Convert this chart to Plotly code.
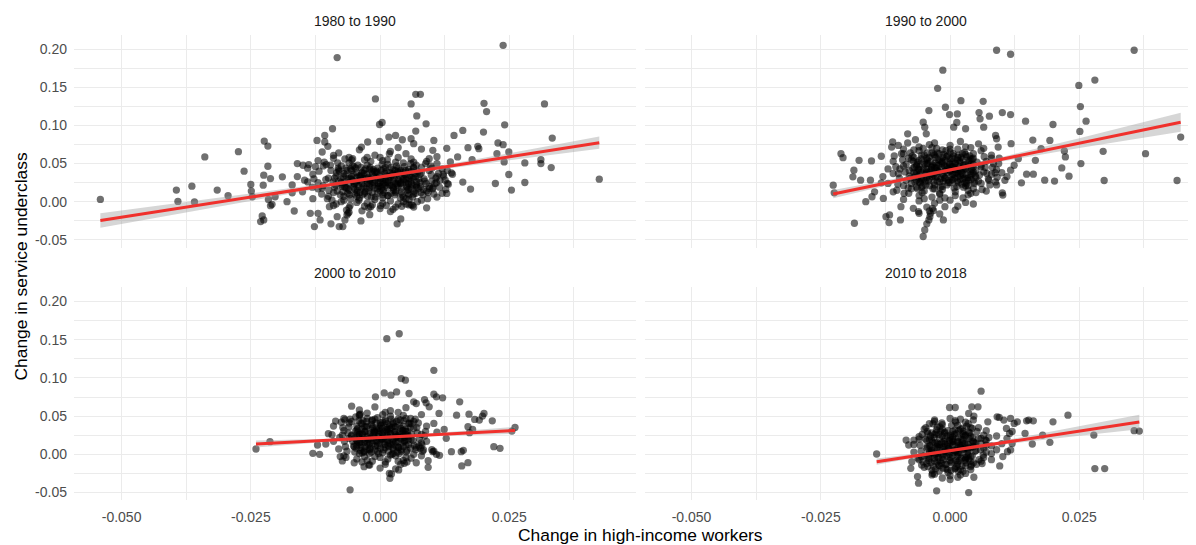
import plotly.graph_objects as go

# ---------------- data ----------------
panel_titles = ["1980 to 1990", "1990 to 2000", "2000 to 2010", "2010 to 2018"]

x_ticks = [-0.05, -0.025, 0.0, 0.025]
x_tick_labels = ["-0.050", "-0.025", "0.000", "0.025"]
x_minor = [-0.0375, -0.0125, 0.0125, 0.0375]
y_ticks = [-0.05, 0.0, 0.05, 0.10, 0.15, 0.20]
y_tick_labels = ["-0.05", "0.00", "0.05", "0.10", "0.15", "0.20"]
y_minor = [-0.025, 0.025, 0.075, 0.125, 0.175]

x_title = "Change in high-income workers"
y_title = "Change in service underclass"

# 1980 to 1990 -------------------------------------------------------------
pts_1980_spread = [
    (-0.0541, 0.0030), (-0.0394, 0.0152), (-0.0391, 0.0004), (-0.0364, 0.0204), (-0.0359, -0.0004),
    (-0.0339, 0.0587), (-0.0315, 0.0152), (-0.0294, 0.0078), (-0.0274, 0.0657), (-0.0263, 0.0400),
    (-0.0250, 0.0226), (-0.0249, 0.0139), (-0.0247, 0.0065), (-0.0231, -0.0261), (-0.0228, -0.0187),
    (-0.0225, -0.0239), (-0.0224, 0.0796), (-0.0217, 0.0730), (-0.0217, 0.0465), (-0.0225, 0.0348),
    (-0.0226, 0.0217), (-0.0212, 0.0304), (-0.0212, -0.0052), (-0.0209, -0.0035), (-0.0216, 0.0030),
    (-0.0203, 0.0065), (-0.0189, 0.0326), (-0.0180, 0.0000), (-0.0166, -0.0122), (-0.0170, 0.0117),
    (-0.0160, 0.0500), (-0.0149, 0.0478), (-0.0146, 0.0283), (-0.0138, 0.0487), (-0.0135, -0.0152),
    (-0.0127, -0.0326), (-0.0122, 0.0804), (-0.0120, -0.0152), (-0.0116, -0.0239), (-0.0112, 0.0652),
    (-0.0107, 0.0870), (-0.0107, 0.0783), (-0.0104, 0.0487), (-0.0101, 0.0726), (-0.0098, -0.0065),
    (-0.0095, -0.0291), (-0.0092, 0.0957), (-0.0090, 0.0609), (-0.0083, 0.1891), (-0.0083, -0.0196),
    (-0.0079, -0.0326), (-0.0072, -0.0326), (-0.0068, -0.0239), (-0.0064, -0.0174), (-0.0062, -0.0152),
    (-0.0053, 0.0565), (-0.0037, -0.0252), (-0.0036, 0.0717), (-0.0024, 0.0783), (-0.0018, -0.0065),
    (-0.0009, 0.1348), (-0.0001, 0.1013), (0.0004, 0.1039), (-0.0001, 0.0791), (0.0001, -0.0052),
    (0.0017, 0.0848), (0.0018, 0.0630), (0.0030, 0.0870), (0.0033, -0.0291), (0.0040, -0.0226),
    (0.0043, 0.0813), (0.0050, -0.0030), (0.0056, -0.0043), (0.0060, 0.1283), (0.0069, 0.1409),
    (0.0078, 0.1409), (0.0071, 0.1126), (0.0069, 0.0926), (0.0060, 0.0826), (0.0065, 0.0761),
    (0.0063, -0.0048), (0.0056, 0.0030), (0.0089, 0.1022), (0.0078, 0.0196), (0.0084, 0.0161),
    (0.0096, 0.0174), (0.0102, 0.0183), (0.0104, 0.0804), (0.0102, 0.0674), (0.0095, 0.0565),
    (0.0109, 0.0248), (0.0113, 0.0370), (0.0123, 0.0335), (0.0126, 0.0283), (0.0129, 0.0700),
    (0.0129, 0.0109), (0.0132, 0.0230), (0.0138, 0.0378), (0.0136, 0.0522), (0.0143, 0.0870),
    (0.0150, 0.0587), (0.0160, 0.0935), (0.0160, 0.0257), (0.0170, 0.0709), (0.0175, 0.0165),
    (0.0178, 0.0552), (0.0189, 0.0726), (0.0191, 0.0696), (0.0200, 0.0913), (0.0201, 0.1291),
    (0.0206, 0.1183), (0.0223, 0.0239), (0.0226, 0.0630), (0.0228, 0.0770), (0.0238, 0.0748),
    (0.0238, 0.2052), (0.0241, 0.1009), (0.0240, 0.0522), (0.0249, 0.0652), (0.0249, 0.0357),
    (0.0254, 0.0152), (0.0280, 0.0509), (0.0280, 0.0252), (0.0311, 0.0552), (0.0311, 0.0500),
    (0.0318, 0.1283), (0.0331, 0.0448), (0.0333, 0.0835), (0.0424, 0.0296),
]
pts_1980_core = [
    (-0.008, 0.064), (-0.004, 0.068), (-0.001, 0.061), (0.002, 0.066), (0.005, 0.063), (0.008, 0.069),
    (-0.006, 0.058), (0.0035, 0.071), (-0.012, 0.054), (-0.009, 0.057), (-0.006, 0.051), (-0.003, 0.055),
    (0.000, 0.058), (0.003, 0.052), (0.006, 0.056), (0.009, 0.053), (0.011, 0.059), (-0.0075, 0.047),
    (0.0015, 0.049), (-0.014, 0.044), (-0.011, 0.047), (-0.008, 0.042), (-0.005, 0.046), (-0.002, 0.043),
    (0.001, 0.045), (0.004, 0.041), (0.007, 0.048), (0.010, 0.044), (0.013, 0.041), (-0.0035, 0.038),
    (0.0055, 0.039), (-0.016, 0.033), (-0.013, 0.036), (-0.010, 0.031), (-0.007, 0.037), (-0.004, 0.034),
    (-0.001, 0.039), (0.002, 0.032), (0.005, 0.035), (0.008, 0.038), (0.011, 0.033), (0.014, 0.036),
    (-0.0055, 0.029), (0.0035, 0.029), (0.0005, 0.027), (-0.017, 0.022), (-0.014, 0.026), (-0.011, 0.021),
    (-0.008, 0.027), (-0.005, 0.023), (-0.002, 0.028), (0.001, 0.021), (0.004, 0.025), (0.007, 0.022),
    (0.010, 0.027), (0.013, 0.024), (-0.0065, 0.018), (-0.0005, 0.017), (0.0025, 0.019), (0.0055, 0.016),
    (-0.015, 0.013), (-0.012, 0.017), (-0.009, 0.012), (-0.006, 0.015), (-0.003, 0.011), (0.000, 0.014),
    (0.003, 0.012), (0.006, 0.018), (0.009, 0.014), (0.012, 0.011), (-0.0045, 0.007), (0.0015, 0.008),
    (0.0045, 0.006), (-0.013, 0.004), (-0.010, 0.007), (-0.007, 0.002), (-0.004, 0.005), (-0.001, 0.003),
    (0.002, 0.001), (0.005, 0.004), (0.008, 0.002), (0.011, 0.006), (-0.0025, -0.002), (0.0035, -0.003),
    (-0.009, -0.005), (-0.006, -0.008), (-0.003, -0.006), (0.000, -0.009), (0.003, -0.007), (0.006, -0.004),
    (0.009, -0.008), (-0.006, -0.014), (-0.002, -0.017), (0.002, -0.013), (-0.0045, 0.032), (-0.0025, 0.024),
    (-0.0015, 0.036), (0.0005, 0.031), (0.0025, 0.037), (0.0045, 0.027), (0.0065, 0.031), (-0.0035, 0.018),
    (-0.0015, 0.021), (0.0015, 0.025), (0.0035, 0.021), (0.0055, 0.024), (-0.0055, 0.041), (-0.0005, 0.044),
    (0.0025, 0.042), (0.0065, 0.044), (-0.0025, 0.048), (0.0045, 0.051), (-0.0045, 0.012), (0.0005, 0.009),
    (0.0065, 0.010), (-0.0075, 0.025), (0.0085, 0.030), (-0.0085, 0.034), (0.0095, 0.020),
    (-0.0105, 0.029), (-0.0095, 0.041), (-0.0088, 0.019), (-0.0082, 0.051), (-0.0077, 0.009), (-0.0071, 0.033),
    (-0.0066, 0.044), (-0.0061, 0.024), (-0.0057, 0.004), (-0.0052, 0.036), (-0.0048, 0.016), (-0.0043, 0.048),
    (-0.0039, 0.027), (-0.0034, 0.009), (-0.0031, 0.041), (-0.0027, 0.031), (-0.0022, 0.014), (-0.0018, 0.053),
    (-0.0014, 0.026), (-0.0009, 0.006), (-0.0005, 0.038), (0.0000, 0.020), (0.0004, 0.049), (0.0008, 0.012),
    (0.0012, 0.034), (0.0017, 0.028), (0.0021, 0.045), (0.0026, 0.015), (0.0030, 0.024), (0.0034, 0.039),
    (0.0039, 0.005), (0.0043, 0.033), (0.0047, 0.046), (0.0052, 0.019), (0.0056, 0.030), (0.0061, 0.040),
    (0.0066, 0.014), (0.0071, 0.026), (0.0077, 0.036), (0.0083, 0.009), (0.0089, 0.024), (0.0095, 0.041),
    (0.0102, 0.017), (0.0108, 0.031), (-0.0099, 0.015), (-0.0091, 0.026), (-0.0084, 0.038), (-0.0073, 0.020),
    (-0.0068, 0.056), (-0.0063, 0.011), (-0.0058, 0.031), (-0.0053, 0.047), (-0.0046, 0.025), (-0.0041, 0.002),
    (-0.0037, 0.035), (-0.0032, 0.020), (-0.0028, 0.043), (-0.0024, 0.007), (-0.0019, 0.030), (-0.0016, 0.040),
    (-0.0011, 0.018), (-0.0007, 0.032), (-0.0003, 0.024), (0.0002, 0.041), (0.0006, 0.015), (0.0010, 0.029),
    (0.0014, 0.055), (0.0019, 0.022), (0.0023, 0.035), (0.0028, 0.009), (0.0032, 0.047), (0.0036, 0.026),
    (0.0041, 0.018), (0.0045, 0.038), (0.0050, 0.029), (0.0054, 0.011), (0.0059, 0.050), (0.0064, 0.022),
    (0.0069, 0.033), (0.0074, 0.017), (0.0080, 0.045), (0.0086, 0.027), (0.0093, 0.012), (0.0099, 0.035),
    (0.0106, 0.024), (0.0115, 0.019), (-0.0120, 0.025), (-0.0128, 0.030), (-0.0113, 0.010), (0.0120, 0.043),
    (-0.0085, -0.003), (-0.0065, -0.011), (-0.0045, -0.001), (-0.0035, -0.012), (-0.0015, -0.004),
    (0.0005, -0.002), (0.0025, -0.010), (0.0045, 0.000), (0.0065, -0.007), (-0.0075, 0.000),
    (-0.0088, 0.031), (-0.0083, 0.014), (-0.0079, 0.040), (-0.0074, 0.022), (-0.0070, 0.007), (-0.0066, 0.035),
    (-0.0061, 0.017), (-0.0057, 0.043), (-0.0053, 0.027), (-0.0049, 0.010), (-0.0045, 0.038), (-0.0041, 0.020),
    (-0.0037, 0.045), (-0.0033, 0.030), (-0.0029, 0.013), (-0.0025, 0.036), (-0.0021, 0.023), (-0.0017, 0.006),
    (-0.0013, 0.042), (-0.0009, 0.028), (-0.0005, 0.011), (-0.0001, 0.035), (0.0003, 0.018), (0.0007, 0.043),
    (0.0011, 0.025), (0.0015, 0.008), (0.0019, 0.038), (0.0023, 0.021), (0.0027, 0.030), (0.0031, 0.014),
    (0.0035, 0.044), (0.0039, 0.024), (0.0043, 0.009), (0.0047, 0.036), (0.0051, 0.020), (0.0055, 0.042),
    (0.0059, 0.027), (0.0063, 0.006), (0.0067, 0.037), (0.0071, 0.019), (0.0075, 0.030), (0.0079, 0.012),
    (-0.0086, 0.022), (-0.0081, 0.044), (-0.0076, 0.030), (-0.0072, 0.013), (-0.0068, 0.026), (-0.0064, 0.041),
    (-0.0059, 0.009), (-0.0055, 0.033), (-0.0051, 0.019), (-0.0047, 0.044), (-0.0043, 0.028), (-0.0039, 0.012),
    (-0.0035, 0.024), (-0.0031, 0.037), (-0.0027, 0.017), (-0.0023, 0.032), (-0.0019, 0.045), (-0.0015, 0.012),
    (-0.0011, 0.025), (-0.0007, 0.040), (-0.0003, 0.020), (0.0001, 0.030), (0.0005, 0.005), (0.0009, 0.037),
    (0.0013, 0.019), (0.0017, 0.033), (0.0021, 0.011), (0.0025, 0.027), (0.0029, 0.041), (0.0033, 0.023),
    (0.0037, 0.034), (0.0041, 0.013), (0.0045, 0.029), (0.0049, 0.041), (0.0053, 0.015), (0.0057, 0.034),
    (0.0061, 0.023), (0.0065, 0.045), (0.0069, 0.011), (0.0073, 0.039), (0.0077, 0.025), (-0.0062, 0.030),
    (-0.0038, 0.033), (-0.0012, 0.033), (0.0012, 0.040), (0.0038, 0.039), (0.0062, 0.032), (-0.0050, 0.024),
    (-0.0026, 0.027), (0.0000, 0.025), (0.0026, 0.018), (0.0050, 0.025), (-0.0044, 0.015), (-0.0020, 0.019),
    (0.0006, 0.023), (0.0030, 0.035), (0.0056, 0.009), (-0.0068, 0.019),
    (-0.0118, 0.040), (-0.0112, 0.018), (-0.0108, 0.052), (-0.0102, 0.004), (-0.0096, 0.048), (-0.0093, 0.002),
    (0.0088, 0.050), (0.0092, 0.004), (0.0098, 0.047), (0.0104, 0.010), (0.0110, 0.050), (0.0116, 0.028),
    (0.0122, 0.036), (0.0127, 0.016), (-0.0125, 0.046), (-0.0131, 0.019), (-0.0055, 0.055), (-0.0025, 0.058),
    (0.0005, 0.054), (0.0035, 0.058), (0.0065, 0.052), (-0.0058, -0.005), (-0.0022, -0.008), (0.0012, -0.005),
    (0.0042, -0.006), (0.0072, 0.000),
]
fit_1980_x = [-0.0541, -0.03, -0.01, 0.0, 0.01, 0.025, 0.0424]
fit_1980_y = [-0.0248, 0.0007, 0.0219, 0.0325, 0.0431, 0.0590, 0.0774]
fit_1980_lo = [-0.0343, -0.0048, 0.0194, 0.0305, 0.0406, 0.0545, 0.0694]
fit_1980_hi = [-0.0153, 0.0062, 0.0244, 0.0345, 0.0456, 0.0635, 0.0854]

# 1990 to 2000 -------------------------------------------------------------
pts_1990_spread = [
    (-0.0226, 0.0217), (-0.0224, 0.0117), (-0.0211, 0.0630), (-0.0207, 0.0578), (-0.0185, -0.0283),
    (-0.0186, 0.0413), (-0.0188, 0.0326), (-0.0176, 0.0543), (-0.0173, 0.0283), (-0.0163, 0.0000),
    (-0.0154, 0.0283), (-0.0152, 0.0535), (-0.0151, 0.0065), (-0.0146, 0.0130), (-0.0133, 0.0596),
    (-0.0133, 0.0248), (-0.0129, 0.0043), (-0.0124, -0.0196), (-0.0118, -0.0274), (-0.0117, -0.0174),
    (-0.0111, 0.0783), (-0.0113, 0.0717), (-0.0100, 0.0739), (-0.0096, -0.0239), (-0.0095, -0.0065),
    (-0.0082, 0.0891), (-0.0082, 0.0770), (-0.0067, 0.0813), (-0.0071, -0.0087), (-0.0061, -0.0130),
    (-0.0060, -0.0152), (-0.0052, 0.1043), (-0.0049, 0.0978), (-0.0046, 0.0891), (-0.0052, -0.0457),
    (-0.0049, -0.0370), (-0.0045, -0.0291), (-0.0041, -0.0239), (-0.0038, -0.0152), (-0.0034, -0.0087),
    (-0.0039, -0.0196), (-0.0032, -0.0117), (-0.0041, 0.1196), (-0.0024, 0.1487), (-0.0014, 0.1726),
    (-0.0013, -0.0239), (-0.0009, 0.1239), (-0.0010, -0.0065), (-0.0001, 0.1143), (0.0014, 0.1152),
    (0.0007, 0.0978), (0.0013, 0.1039), (0.0021, 0.1326), (0.0030, 0.0957), (0.0045, -0.0030),
    (0.0056, 0.1170), (0.0058, 0.1087), (0.0064, 0.1317), (0.0065, 0.0978), (0.0076, 0.1122),
    (0.0090, 0.1987), (0.0117, 0.1935), (0.0101, 0.1170), (0.0117, 0.1143), (0.0088, 0.0870),
    (0.0090, 0.0826), (0.0093, 0.0717), (0.0102, 0.0087), (0.0101, 0.0117), (0.0118, 0.0761),
    (0.0117, 0.0413), (0.0124, 0.0478), (0.0132, 0.0565), (0.0138, 0.0248), (0.0146, 0.1057),
    (0.0148, 0.0361), (0.0160, 0.0809), (0.0161, 0.0361), (0.0165, 0.0543), (0.0176, 0.0696),
    (0.0183, 0.0283), (0.0193, 0.0804), (0.0199, 0.1013), (0.0202, 0.0270), (0.0216, 0.0443),
    (0.0221, 0.0665), (0.0223, 0.0587), (0.0230, 0.0335), (0.0249, 0.1526), (0.0252, 0.1248),
    (0.0251, 0.0922), (0.0253, 0.0500), (0.0263, 0.1057), (0.0280, 0.1596), (0.0296, 0.0661),
    (0.0298, 0.0278), (0.0356, 0.1987), (0.0378, 0.0630), (0.0439, 0.0278), (0.0446, 0.0848),
]
pts_1990_core = [
    (-0.006, 0.072), (-0.003, 0.077), (0.000, 0.074), (0.002, 0.079), (0.004, 0.071), (-0.0015, 0.068),
    (0.0055, 0.076), (-0.009, 0.063), (-0.006, 0.067), (-0.003, 0.061), (0.000, 0.065), (0.003, 0.062),
    (0.006, 0.067), (0.008, 0.061), (-0.0045, 0.057), (0.0015, 0.058), (-0.011, 0.053), (-0.008, 0.057),
    (-0.005, 0.052), (-0.002, 0.055), (0.001, 0.051), (0.004, 0.056), (0.007, 0.053), (0.0095, 0.057),
    (-0.0065, 0.047), (0.0025, 0.048), (-0.0005, 0.046), (-0.012, 0.043), (-0.009, 0.047), (-0.006, 0.042),
    (-0.003, 0.045), (0.000, 0.041), (0.003, 0.044), (0.006, 0.046), (0.009, 0.042), (-0.0045, 0.038),
    (0.0015, 0.037), (0.0045, 0.039), (-0.013, 0.033), (-0.010, 0.037), (-0.007, 0.032), (-0.004, 0.035),
    (-0.001, 0.031), (0.002, 0.034), (0.005, 0.032), (0.008, 0.036), (0.011, 0.033), (-0.0025, 0.027),
    (0.0035, 0.028), (-0.012, 0.024), (-0.009, 0.021), (-0.006, 0.026), (-0.003, 0.022), (0.000, 0.025),
    (0.003, 0.021), (0.006, 0.024), (0.009, 0.022), (-0.0075, 0.017), (-0.0015, 0.016), (0.0045, 0.017),
    (-0.011, 0.013), (-0.008, 0.011), (-0.005, 0.014), (-0.002, 0.010), (0.001, 0.013), (0.004, 0.011),
    (0.007, 0.014), (-0.0035, 0.006), (0.0025, 0.005), (-0.009, 0.003), (-0.006, 0.001), (-0.003, -0.002),
    (0.000, 0.002), (0.003, -0.001), (-0.0045, -0.007), (0.0015, -0.006), (-0.004, -0.012), (-0.002, -0.016),
    (0.001, -0.011), (-0.0045, 0.050), (-0.0025, 0.040), (-0.0015, 0.052), (0.0005, 0.036), (0.0025, 0.056),
    (0.0045, 0.049), (-0.0055, 0.030), (-0.0035, 0.045), (0.0005, 0.028), (0.0025, 0.030), (-0.0005, 0.060),
    (-0.0025, 0.064), (0.0015, 0.069), (-0.0065, 0.038), (0.0065, 0.039), (-0.0085, 0.028), (0.0075, 0.028),
    (-0.0015, 0.020), (0.0035, 0.015), (-0.0055, 0.019), (0.0045, 0.063), (-0.0075, 0.055), (0.0005, 0.046),
    (-0.0035, 0.033), (0.0015, 0.042),
    (-0.0105, 0.046), (-0.0098, 0.031), (-0.0092, 0.055), (-0.0087, 0.039), (-0.0081, 0.018), (-0.0077, 0.064),
    (-0.0072, 0.044), (-0.0068, 0.026), (-0.0063, 0.052), (-0.0059, 0.035), (-0.0054, 0.012), (-0.0050, 0.061),
    (-0.0046, 0.043), (-0.0042, 0.027), (-0.0038, 0.053), (-0.0034, 0.037), (-0.0030, 0.017), (-0.0026, 0.070),
    (-0.0022, 0.048), (-0.0018, 0.030), (-0.0014, 0.058), (-0.0010, 0.040), (-0.0006, 0.022), (-0.0002, 0.051),
    (0.0002, 0.033), (0.0006, 0.063), (0.0010, 0.045), (0.0014, 0.027), (0.0018, 0.054), (0.0022, 0.038),
    (0.0026, 0.019), (0.0030, 0.049), (0.0034, 0.031), (0.0038, 0.060), (0.0042, 0.042), (0.0047, 0.024),
    (0.0052, 0.052), (0.0057, 0.035), (0.0062, 0.016), (0.0068, 0.045), (0.0074, 0.030), (0.0080, 0.057),
    (0.0087, 0.038), (-0.0101, 0.023), (-0.0094, 0.063), (-0.0085, 0.049), (-0.0079, 0.034), (-0.0070, 0.058),
    (-0.0065, 0.019), (-0.0061, 0.043), (-0.0056, 0.028), (-0.0052, 0.070), (-0.0048, 0.036), (-0.0044, 0.055),
    (-0.0040, 0.021), (-0.0036, 0.046), (-0.0032, 0.062), (-0.0028, 0.032), (-0.0024, 0.041), (-0.0020, 0.011),
    (-0.0016, 0.050), (-0.0012, 0.035), (-0.0008, 0.067), (-0.0004, 0.028), (0.0000, 0.056), (0.0004, 0.043),
    (0.0008, 0.018), (0.0012, 0.038), (0.0016, 0.061), (0.0020, 0.029), (0.0024, 0.044), (0.0028, 0.065),
    (0.0032, 0.024), (0.0036, 0.051), (0.0040, 0.035), (0.0045, 0.057), (0.0050, 0.041), (0.0055, 0.027),
    (0.0060, 0.048), (0.0066, 0.059), (0.0071, 0.037), (0.0077, 0.022), (0.0084, 0.050), (0.0091, 0.032),
    (-0.0110, 0.037), (-0.0060, 0.008), (-0.0010, 0.005), (0.0035, 0.009), (0.0065, 0.070), (-0.0040, 0.075),
    (-0.0079, 0.041), (-0.0075, 0.024), (-0.0071, 0.053), (-0.0067, 0.035), (-0.0063, 0.017), (-0.0059, 0.046),
    (-0.0055, 0.061), (-0.0051, 0.030), (-0.0047, 0.022), (-0.0043, 0.050), (-0.0039, 0.039), (-0.0035, 0.064),
    (-0.0031, 0.026), (-0.0027, 0.044), (-0.0023, 0.055), (-0.0019, 0.019), (-0.0015, 0.036), (-0.0011, 0.047),
    (-0.0007, 0.059), (-0.0003, 0.025), (0.0001, 0.040), (0.0005, 0.052), (0.0009, 0.031), (0.0013, 0.020),
    (0.0017, 0.046), (0.0021, 0.058), (0.0025, 0.036), (0.0029, 0.025), (0.0033, 0.043), (0.0037, 0.054),
    (0.0041, 0.029), (0.0045, 0.046), (0.0049, 0.034), (-0.0077, 0.031), (-0.0073, 0.060), (-0.0069, 0.045),
    (-0.0065, 0.028), (-0.0061, 0.054), (-0.0057, 0.038), (-0.0053, 0.021), (-0.0049, 0.049), (-0.0045, 0.032),
    (-0.0041, 0.058), (-0.0037, 0.042), (-0.0033, 0.017), (-0.0029, 0.051), (-0.0025, 0.033), (-0.0021, 0.063),
    (-0.0017, 0.045), (-0.0013, 0.027), (-0.0009, 0.054), (-0.0005, 0.038), (-0.0001, 0.049), (0.0003, 0.029),
    (0.0007, 0.060), (0.0011, 0.042), (0.0015, 0.033), (0.0019, 0.052), (0.0023, 0.023), (0.0027, 0.048),
    (0.0031, 0.035), (0.0035, 0.021), (0.0039, 0.040), (0.0043, 0.056), (0.0047, 0.026), (-0.0070, 0.038),
    (-0.0058, 0.025), (-0.0046, 0.040), (-0.0034, 0.048), (-0.0022, 0.039), (-0.0010, 0.031), (0.0002, 0.046),
    (0.0014, 0.055), (0.0026, 0.042), (0.0038, 0.032), (-0.0064, 0.049), (-0.0052, 0.043), (-0.0040, 0.030),
    (-0.0028, 0.058), (-0.0016, 0.053), (-0.0004, 0.043), (0.0008, 0.036), (0.0020, 0.040), (0.0032, 0.059),
    (0.0044, 0.037), (-0.0056, 0.056), (-0.0044, 0.064), (-0.0032, 0.035), (-0.0020, 0.026), (-0.0008, 0.045),
    (0.0004, 0.057), (0.0016, 0.025), (0.0028, 0.031), (0.0040, 0.049), (-0.0062, 0.033), (-0.0026, 0.048),
    (0.0010, 0.050), (-0.0048, 0.027), (-0.0012, 0.062), (0.0024, 0.063),
    (-0.0108, 0.060), (-0.0103, 0.015), (-0.0097, 0.043), (-0.0090, 0.069), (-0.0089, 0.011), (0.0082, 0.045),
    (0.0088, 0.026), (0.0094, 0.050), (0.0100, 0.038), (0.0106, 0.028), (-0.0070, 0.068), (-0.0035, 0.071),
    (0.0000, 0.069), (0.0030, 0.072), (-0.0050, 0.004), (-0.0020, 0.002), (0.0010, 0.008), (0.0050, 0.012),
]
fit_1990_x = [-0.0226, -0.01, 0.0, 0.01, 0.025, 0.0446]
fit_1990_y = [0.0100, 0.0277, 0.0417, 0.0557, 0.0768, 0.1043]
fit_1990_lo = [0.0045, 0.0247, 0.0397, 0.0527, 0.0703, 0.0918]
fit_1990_hi = [0.0155, 0.0307, 0.0437, 0.0587, 0.0833, 0.1168]

# 2000 to 2010 -------------------------------------------------------------
pts_2000_spread = [
    (-0.0240, 0.0070), (-0.0213, 0.0165), (-0.0130, 0.0013), (-0.0117, 0.0000), (-0.0121, 0.0122),
    (-0.0105, 0.0135), (-0.0093, 0.0257), (-0.0086, 0.0435), (-0.0077, -0.0030), (-0.0073, -0.0087),
    (-0.0055, 0.0630), (-0.0058, -0.0465), (-0.0038, 0.0526), (-0.0031, -0.0161), (-0.0022, -0.0139),
    (-0.0009, 0.0752), (0.0008, 0.0804), (0.0013, 0.1513), (0.0037, 0.1578), (0.0041, 0.0991),
    (0.0049, 0.0970), (0.0032, 0.0817), (0.0021, 0.0774), (0.0018, -0.0248), (0.0019, -0.0313),
    (0.0022, -0.0257), (0.0036, -0.0204), (0.0047, -0.0117), (0.0056, 0.0796), (0.0065, 0.0687),
    (0.0070, 0.0665), (0.0086, 0.0717), (0.0089, 0.0674), (0.0095, 0.0622), (0.0104, 0.1100),
    (0.0104, 0.0787), (0.0109, 0.0752), (0.0121, 0.0739), (0.0114, 0.0535), (0.0104, 0.0404),
    (0.0093, -0.0170), (0.0093, -0.0083), (0.0081, 0.0122), (0.0084, 0.0057), (0.0102, 0.0035),
    (0.0104, 0.0043), (0.0109, 0.0000), (0.0115, -0.0013), (0.0124, 0.0326), (0.0128, 0.0209),
    (0.0138, 0.0035), (0.0148, 0.0513), (0.0154, 0.0687), (0.0157, 0.0035), (0.0161, 0.0052),
    (0.0170, -0.0109), (0.0158, -0.0152), (0.0172, 0.0526), (0.0170, 0.0361), (0.0173, 0.0283),
    (0.0179, 0.0326), (0.0183, 0.0457), (0.0192, 0.0448), (0.0201, 0.0535), (0.0198, 0.0500),
    (0.0220, 0.0100), (0.0217, 0.0439), (0.0232, 0.0078), (0.0255, 0.0304), (0.0261, 0.0352),
]
pts_2000_core = [
    (-0.004, 0.058), (-0.001, 0.062), (0.002, 0.057), (0.005, 0.061), (-0.0025, 0.054), (0.0035, 0.055),
    (-0.007, 0.047), (-0.004, 0.051), (-0.001, 0.046), (0.002, 0.050), (0.005, 0.047), (0.008, 0.052),
    (-0.0055, 0.043), (0.0005, 0.042), (0.0065, 0.043), (-0.009, 0.037), (-0.006, 0.041), (-0.003, 0.036),
    (0.000, 0.039), (0.003, 0.036), (0.006, 0.040), (0.009, 0.037), (-0.0045, 0.032), (0.0015, 0.033),
    (0.0045, 0.031), (-0.010, 0.027), (-0.007, 0.031), (-0.004, 0.026), (-0.001, 0.029), (0.002, 0.027),
    (0.005, 0.030), (0.008, 0.026), (0.011, 0.029), (-0.0025, 0.023), (0.0035, 0.022), (-0.009, 0.017),
    (-0.006, 0.021), (-0.003, 0.016), (0.000, 0.019), (0.003, 0.016), (0.006, 0.020), (0.009, 0.017),
    (-0.0045, 0.012), (0.0015, 0.012), (0.0075, 0.011), (-0.008, 0.007), (-0.005, 0.010), (-0.002, 0.006),
    (0.001, 0.009), (0.004, 0.006), (0.007, 0.009), (0.010, 0.006), (-0.0035, 0.002), (0.0025, 0.001),
    (-0.007, -0.002), (-0.004, 0.001), (-0.001, -0.003), (0.002, -0.001), (0.005, -0.004), (0.008, -0.002),
    (-0.0025, -0.008), (0.0035, -0.009), (-0.005, -0.011), (-0.002, -0.014), (0.001, -0.010), (0.004, -0.013),
    (0.007, -0.011), (0.000, -0.018), (0.003, -0.019), (-0.0015, 0.034), (0.0005, 0.025), (0.0025, 0.040),
    (-0.0035, 0.040), (0.0045, 0.024), (-0.0015, 0.014), (0.0025, 0.008), (-0.0005, 0.004), (0.0055, 0.013),
    (-0.0055, 0.025), (0.0065, 0.034), (-0.0025, 0.047), (0.0035, 0.046), (-0.0045, 0.018), (0.0005, 0.052),
    (0.0015, 0.018), (-0.0005, 0.031),
    (-0.0078, 0.022), (-0.0072, 0.035), (-0.0067, 0.010), (-0.0062, 0.028), (-0.0058, 0.046), (-0.0053, 0.017),
    (-0.0049, 0.003), (-0.0045, 0.037), (-0.0041, 0.023), (-0.0037, 0.009), (-0.0033, 0.044), (-0.0029, 0.030),
    (-0.0025, 0.015), (-0.0021, 0.001), (-0.0017, 0.039), (-0.0013, 0.025), (-0.0009, 0.011), (-0.0005, 0.048),
    (-0.0001, 0.034), (0.0003, 0.020), (0.0007, 0.006), (0.0011, 0.043), (0.0015, 0.029), (0.0019, 0.014),
    (0.0023, 0.000), (0.0027, 0.037), (0.0031, 0.023), (0.0035, 0.009), (0.0039, 0.045), (0.0043, 0.031),
    (0.0047, 0.017), (0.0051, 0.003), (0.0056, 0.040), (0.0061, 0.026), (0.0066, 0.012), (0.0071, 0.035),
    (0.0076, 0.020), (0.0082, 0.004), (0.0088, 0.030), (-0.0075, 0.042), (-0.0069, 0.017), (-0.0064, 0.004),
    (-0.0060, 0.036), (-0.0055, 0.024), (-0.0051, 0.011), (-0.0047, 0.049), (-0.0043, 0.029), (-0.0039, 0.016),
    (-0.0035, 0.027), (-0.0031, 0.004), (-0.0027, 0.036), (-0.0023, 0.020), (-0.0019, 0.008), (-0.0015, 0.045),
    (-0.0011, 0.031), (-0.0007, 0.018), (-0.0003, 0.001), (0.0001, 0.041), (0.0005, 0.028), (0.0009, 0.013),
    (0.0013, 0.035), (0.0017, 0.022), (0.0021, 0.046), (0.0025, 0.016), (0.0029, 0.030), (0.0033, 0.003),
    (0.0037, 0.038), (0.0041, 0.020), (0.0045, 0.010), (0.0049, 0.033), (0.0054, 0.023), (0.0059, 0.047),
    (0.0064, 0.018), (0.0069, 0.006), (0.0074, 0.041), (0.0080, 0.015), (0.0086, 0.024), (-0.0045, -0.006),
    (-0.0015, -0.009), (0.0015, -0.006), (0.0045, -0.008), (-0.0030, -0.003), (0.0000, -0.004), (0.0030, -0.002),
    (0.0060, -0.005),
    (-0.0049, 0.021), (-0.0046, 0.008), (-0.0043, 0.034), (-0.0040, 0.015), (-0.0037, 0.041), (-0.0034, 0.026),
    (-0.0031, 0.003), (-0.0028, 0.019), (-0.0025, 0.037), (-0.0022, 0.012), (-0.0019, 0.028), (-0.0016, 0.044),
    (-0.0013, 0.018), (-0.0010, 0.006), (-0.0007, 0.033), (-0.0004, 0.023), (-0.0001, 0.014), (0.0002, 0.038),
    (0.0005, 0.002), (0.0008, 0.030), (0.0011, 0.019), (0.0014, 0.040), (0.0017, 0.010), (0.0020, 0.027),
    (0.0023, 0.035), (0.0026, 0.006), (0.0029, 0.021), (0.0032, 0.043), (0.0035, 0.016), (0.0038, 0.029),
    (0.0041, 0.004), (0.0044, 0.037), (0.0047, 0.022), (0.0050, 0.012), (0.0053, 0.030), (0.0056, 0.041),
    (0.0059, 0.008), (-0.0048, 0.030), (-0.0044, 0.017), (-0.0041, 0.044), (-0.0038, 0.005), (-0.0035, 0.033),
    (-0.0032, 0.020), (-0.0029, 0.010), (-0.0026, 0.043), (-0.0023, 0.027), (-0.0020, 0.015), (-0.0017, 0.003),
    (-0.0014, 0.036), (-0.0011, 0.022), (-0.0008, 0.041), (-0.0005, 0.011), (-0.0002, 0.026), (0.0001, 0.008),
    (0.0004, 0.034), (0.0007, 0.016), (0.0010, 0.045), (0.0013, 0.025), (0.0016, 0.004), (0.0019, 0.033),
    (0.0022, 0.013), (0.0025, 0.042), (0.0028, 0.029), (0.0031, 0.011), (0.0034, 0.024), (0.0037, 0.001),
    (0.0040, 0.034), (0.0043, 0.015), (0.0046, 0.044), (0.0049, 0.026), (0.0052, 0.005), (0.0055, 0.019),
    (0.0058, 0.035), (-0.0030, 0.030), (-0.0012, 0.029), (0.0006, 0.021), (0.0024, 0.019), (0.0042, 0.027),
    (-0.0036, 0.012), (-0.0018, 0.021), (0.0000, 0.030), (0.0018, 0.037), (0.0036, 0.009), (-0.0024, 0.006),
    (-0.0006, 0.016), (0.0012, 0.032), (0.0030, 0.026), (0.0048, 0.018), (-0.0042, 0.025), (0.0054, 0.025),
    (-0.0068, 0.045), (-0.0073, 0.025), (-0.0066, -0.004), (0.0068, 0.046), (0.0072, 0.028), (0.0078, 0.008),
    (0.0065, 0.000), (-0.0040, 0.052), (0.0010, 0.055), (0.0045, 0.051), (-0.0035, -0.010), (0.0010, -0.013),
    (0.0052, -0.010),
]
fit_2000_x = [-0.024, -0.01, 0.0, 0.01, 0.0261]
fit_2000_y = [0.0135, 0.0184, 0.0220, 0.0256, 0.0313]
fit_2000_lo = [0.0090, 0.0164, 0.0205, 0.0236, 0.0268]
fit_2000_hi = [0.0180, 0.0204, 0.0235, 0.0276, 0.0358]

# 2010 to 2018 -------------------------------------------------------------
pts_2010_spread = [
    (-0.0142, 0.0004), (-0.0085, 0.0187), (-0.0070, 0.0187), (-0.0080, 0.0122), (-0.0074, -0.0096),
    (-0.0076, -0.0183), (-0.0063, -0.0291), (-0.0061, -0.0378), (-0.0026, -0.0478), (0.0036, -0.0500),
    (-0.0001, 0.0613), (0.0010, 0.0613), (0.0042, 0.0622), (0.0054, 0.0622), (0.0060, 0.0826),
    (0.0046, -0.0300), (0.0036, 0.0535), (0.0046, 0.0500), (0.0073, 0.0426), (0.0091, 0.0491),
    (0.0095, 0.0483), (0.0104, 0.0448), (0.0117, 0.0470), (0.0124, 0.0404), (0.0130, 0.0426),
    (0.0109, 0.0339), (0.0115, 0.0274), (0.0096, -0.0152), (0.0102, -0.0030), (0.0111, 0.0035),
    (0.0117, 0.0057), (0.0120, 0.0143), (0.0148, 0.0439), (0.0152, 0.0448), (0.0161, 0.0439),
    (0.0145, 0.0274), (0.0159, 0.0135), (0.0179, 0.0252), (0.0193, 0.0157), (0.0199, 0.0426),
    (0.0228, 0.0513), (0.0278, 0.0252), (0.0280, -0.0187), (0.0299, -0.0187), (0.0356, 0.0309),
    (0.0366, 0.0304), (0.007, 0.018), (0.009, 0.006), (0.010, 0.014), (0.011, 0.021),
    (0.008, -0.007), (0.012, 0.030),
]
pts_2010_core = [
    (-0.003, 0.043), (0.000, 0.047), (0.003, 0.042), (-0.0015, 0.039), (0.0015, 0.038), (0.0045, 0.045),
    (-0.005, 0.033), (-0.002, 0.036), (0.001, 0.032), (0.004, 0.035), (0.007, 0.031), (-0.0035, 0.028),
    (0.0025, 0.027), (-0.006, 0.023), (-0.003, 0.026), (0.000, 0.022), (0.003, 0.025), (0.006, 0.021),
    (0.009, 0.024), (-0.0045, 0.018), (0.0015, 0.017), (0.0045, 0.016), (-0.007, 0.013), (-0.004, 0.011),
    (-0.001, 0.014), (0.002, 0.012), (0.005, 0.015), (0.008, 0.011), (-0.0025, 0.007), (0.0035, 0.006),
    (-0.007, 0.003), (-0.004, 0.001), (-0.001, 0.004), (0.002, 0.002), (0.005, 0.005), (0.008, 0.001),
    (-0.0055, -0.003), (0.0005, -0.002), (0.0065, -0.004), (-0.006, -0.007), (-0.003, -0.005), (0.000, -0.008),
    (0.003, -0.006), (0.006, -0.009), (-0.0045, -0.012), (0.0015, -0.013), (0.0045, -0.011), (-0.005, -0.017),
    (-0.002, -0.015), (0.001, -0.018), (0.004, -0.016), (-0.0035, -0.021), (0.0025, -0.022), (-0.003, -0.026),
    (0.000, -0.028), (0.003, -0.025), (-0.0015, -0.031), (0.0015, -0.030), (-0.0015, 0.024), (0.0005, 0.030),
    (-0.0025, 0.015), (0.0015, 0.008), (-0.0005, 0.010), (0.0025, 0.019), (-0.0035, 0.003), (0.0035, -0.001),
    (-0.0015, -0.004), (0.0015, -0.010), (-0.0025, -0.010), (0.0005, 0.017), (-0.0045, 0.008), (0.0045, 0.010),
    (-0.0005, -0.020), (0.0065, 0.008),
    (-0.0058, 0.012), (-0.0054, 0.026), (-0.0050, -0.002), (-0.0047, 0.035), (-0.0043, -0.016), (-0.0040, 0.019),
    (-0.0036, 0.005), (-0.0033, 0.040), (-0.0030, -0.009), (-0.0027, 0.028), (-0.0024, 0.013), (-0.0021, -0.022),
    (-0.0018, 0.001), (-0.0015, 0.033), (-0.0012, 0.017), (-0.0009, -0.013), (-0.0006, 0.024), (-0.0003, 0.008),
    (0.0000, -0.004), (0.0003, 0.038), (0.0006, 0.013), (0.0009, -0.019), (0.0012, 0.027), (0.0015, 0.002),
    (0.0018, -0.008), (0.0021, 0.020), (0.0024, 0.034), (0.0027, 0.007), (0.0030, -0.015), (0.0033, 0.016),
    (0.0036, 0.029), (0.0040, -0.003), (0.0044, 0.022), (0.0048, 0.004), (0.0052, 0.030), (0.0056, -0.007),
    (0.0060, 0.014), (0.0065, 0.025), (0.0070, 0.003), (-0.0056, 0.004), (-0.0052, -0.010), (-0.0048, 0.020),
    (-0.0044, 0.030), (-0.0041, -0.005), (-0.0038, 0.011), (-0.0034, -0.025), (-0.0031, 0.022), (-0.0028, 0.000),
    (-0.0025, 0.036), (-0.0022, -0.014), (-0.0019, 0.009), (-0.0016, 0.041), (-0.0013, -0.007), (-0.0010, 0.029),
    (-0.0007, 0.003), (-0.0004, -0.024), (-0.0001, 0.018), (0.0002, -0.011), (0.0005, 0.023), (0.0008, 0.005),
    (0.0011, 0.042), (0.0014, -0.003), (0.0017, 0.031), (0.0020, -0.020), (0.0023, 0.011), (0.0026, 0.025),
    (0.0029, -0.004), (0.0032, 0.037), (0.0035, 0.008), (0.0039, -0.009), (0.0043, 0.034), (0.0047, 0.015),
    (0.0051, -0.013), (0.0055, 0.021), (0.0059, 0.006), (0.0064, -0.001), (0.0068, 0.019), (-0.0030, 0.045),
    (0.0020, 0.046), (0.0000, -0.033),
    (-0.0044, 0.010), (-0.0041, -0.008), (-0.0038, 0.024), (-0.0035, 0.002), (-0.0032, -0.016), (-0.0029, 0.015),
    (-0.0026, 0.032), (-0.0023, -0.004), (-0.0020, 0.021), (-0.0017, -0.012), (-0.0014, 0.006), (-0.0011, 0.028),
    (-0.0008, -0.019), (-0.0005, 0.013), (-0.0002, 0.000), (0.0001, 0.025), (0.0004, -0.010), (0.0007, 0.017),
    (0.0010, 0.004), (0.0013, -0.016), (0.0016, 0.022), (0.0019, 0.009), (0.0022, -0.005), (0.0025, 0.030),
    (0.0028, 0.014), (0.0031, -0.011), (0.0034, 0.003), (0.0037, 0.021), (0.0040, 0.009), (0.0043, -0.002),
    (-0.0043, 0.027), (-0.0040, 0.003), (-0.0037, -0.011), (-0.0034, 0.016), (-0.0031, 0.007), (-0.0028, -0.019),
    (-0.0025, 0.010), (-0.0022, 0.026), (-0.0019, -0.008), (-0.0016, 0.015), (-0.0013, 0.000), (-0.0010, 0.020),
    (-0.0007, -0.013), (-0.0004, 0.031), (-0.0001, 0.006), (0.0002, -0.021), (0.0005, 0.012), (0.0008, 0.026),
    (0.0011, -0.008), (0.0014, 0.016), (0.0017, 0.000), (0.0020, 0.033), (0.0023, -0.015), (0.0026, 0.006),
    (0.0029, 0.024), (0.0032, -0.003), (0.0035, 0.013), (0.0038, 0.028), (0.0041, -0.014), (0.0044, 0.017),
    (-0.0036, 0.019), (-0.0024, 0.001), (-0.0012, 0.010), (0.0000, 0.015), (0.0012, 0.005), (0.0024, 0.016),
    (0.0036, -0.006), (-0.0030, -0.001), (-0.0018, 0.030), (-0.0006, -0.003), (0.0006, 0.002), (0.0018, 0.012),
    (0.0030, 0.008), (-0.0042, -0.003), (-0.0020, 0.013), (0.0004, 0.020), (0.0028, -0.008), (-0.0014, -0.018),
    (0.0016, -0.022), (0.0040, 0.024),
    (-0.0060, 0.020), (-0.0062, -0.005), (-0.0055, -0.014), (0.0055, 0.035), (0.0062, -0.012), (0.0070, 0.012),
    (0.0075, 0.022), (-0.0040, 0.040), (0.0010, 0.044), (0.0035, 0.040), (-0.0035, -0.027), (0.0020, -0.027),
    (0.0040, -0.020),
]
fit_2010_x = [-0.0142, -0.005, 0.0, 0.01, 0.025, 0.0366]
fit_2010_y = [-0.0096, -0.0002, 0.0049, 0.0151, 0.0304, 0.0422]
fit_2010_lo = [-0.0136, -0.0022, 0.0034, 0.0126, 0.0244, 0.0327]
fit_2010_hi = [-0.0056, 0.0018, 0.0064, 0.0176, 0.0364, 0.0517]

panels = [
    (pts_1980_spread + pts_1980_core, fit_1980_x, fit_1980_y, fit_1980_lo, fit_1980_hi),
    (pts_1990_spread + pts_1990_core, fit_1990_x, fit_1990_y, fit_1990_lo, fit_1990_hi),
    (pts_2000_spread + pts_2000_core, fit_2000_x, fit_2000_y, fit_2000_lo, fit_2000_hi),
    (pts_2010_spread + pts_2010_core, fit_2010_x, fit_2010_y, fit_2010_lo, fit_2010_hi),
]

# ---------------- layout geometry ----------------
# the page body has an 8px margin, so the figure is drawn 8px in from the
# window corner; positions below are given in window pixels.
OFF = 8
W, H = 1196 - OFF, 545 - OFF


def fx(p):
    return (p - OFF) / W


def fy(p):
    return 1 - (p - OFF) / H


x_dom = [[fx(74), fx(636)], [fx(645), 1.0]]
x_rng = [[-0.0592, 0.0495], [-0.0590, 0.04756]]
y_dom = [[fy(247.65), fy(35.1)], [fy(500.4), fy(287.3)]]
y_rng = [-0.0603, 0.2186]

grid_col = "#EBEBEB"
FONT = "Liberation Sans, Arial, Helvetica, sans-serif"

fig = go.Figure()
layout = dict(
    width=W, height=H,
    margin=dict(l=0, r=0, t=0, b=0),
    paper_bgcolor="white", plot_bgcolor="white",
    showlegend=False,
    font=dict(family=FONT, color="#4D4D4D", size=14),
)

annotations = []
for i, (pts, bx, by, blo, bhi) in enumerate(panels):
    row, col = divmod(i, 2)
    n = i + 1
    xa = "x" if n == 1 else f"x{n}"
    ya = "y" if n == 1 else f"y{n}"
    xs = [p[0] for p in pts]
    ys = [p[1] for p in pts]
    fig.add_trace(go.Scatter(
        x=xs, y=ys, mode="markers", xaxis=xa, yaxis=ya,
        marker=dict(size=7.3, color="rgba(0,0,0,0.56)", line=dict(width=0)),
        hoverinfo="skip",
    ))
    fig.add_trace(go.Scatter(
        x=bx + bx[::-1], y=bhi + blo[::-1], mode="lines", fill="toself",
        fillcolor="rgba(153,153,153,0.4)", line=dict(width=0),
        xaxis=xa, yaxis=ya, hoverinfo="skip",
    ))
    fig.add_trace(go.Scatter(
        x=bx, y=by, mode="lines", line=dict(color="#F0302C", width=3),
        xaxis=xa, yaxis=ya, hoverinfo="skip",
    ))

    xkey = "xaxis" if n == 1 else f"xaxis{n}"
    ykey = "yaxis" if n == 1 else f"yaxis{n}"
    layout[xkey] = dict(
        domain=x_dom[col], range=x_rng[col], anchor=ya,
        tickmode="array", tickvals=x_ticks, ticktext=x_tick_labels,
        showticklabels=(row == 1), ticks="", ticklabelstandoff=7,
        showgrid=True, gridcolor=grid_col, gridwidth=1.4,
        zeroline=False, showline=False, fixedrange=True,
        tickfont=dict(size=14, color="#4D4D4D", family=FONT),
        minor=dict(tickmode="array", tickvals=x_minor, showgrid=True,
                   gridcolor=grid_col, gridwidth=0.8, ticks=""),
    )
    layout[ykey] = dict(
        domain=y_dom[row], range=y_rng, anchor=xa,
        tickmode="array", tickvals=y_ticks, ticktext=y_tick_labels,
        showticklabels=(col == 0), ticks="", ticklabelstandoff=6,
        showgrid=True, gridcolor=grid_col, gridwidth=1.4,
        zeroline=False, showline=False, fixedrange=True,
        tickfont=dict(size=14, color="#4D4D4D", family=FONT),
        minor=dict(tickmode="array", tickvals=y_minor, showgrid=True,
                   gridcolor=grid_col, gridwidth=0.8, ticks=""),
    )

    cx = 355 if col == 0 else 926
    cy = 20.7 if row == 0 else 273.3
    annotations.append(dict(
        text=panel_titles[i], x=fx(cx), y=fy(cy), xref="paper", yref="paper",
        xanchor="center", yanchor="middle", showarrow=False,
        font=dict(size=14, color="#1A1A1A", family=FONT),
    ))

annotations.append(dict(
    text=x_title, x=fx(640), y=fy(535), xref="paper", yref="paper",
    xanchor="center", yanchor="middle", showarrow=False,
    font=dict(size=17.4, color="black", family=FONT),
))
annotations.append(dict(
    text=y_title, x=fx(20.5), y=fy(267), xref="paper", yref="paper",
    xanchor="center", yanchor="middle", showarrow=False, textangle=-90,
    font=dict(size=17.4, color="black", family=FONT),
))
layout["annotations"] = annotations

fig.update_layout(**layout)
fig.write_html("out.html")
